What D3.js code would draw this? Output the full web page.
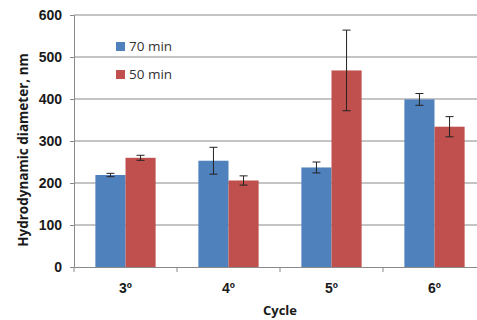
<!DOCTYPE html>
<html>
<head>
<meta charset="utf-8">
<script src="https://cdn.jsdelivr.net/npm/d3@7"></script>
<style>
  body { margin: 0; background: #fff; }
  svg { display: block; font-family: "Open Sans", "DejaVu Sans", sans-serif; }
</style>
</head>
<body>
<div id="plot"></div>
<script>
// chart data
const cycles = ["3º", "4º", "5º", "6º"];
const seriesNames = ["70 min", "50 min"];
const values70 = [219, 253, 237, 399];
const values50 = [260, 206, 468, 334];
const err70 = [4, 32, 13, 14];
const err50 = [6, 11, 96, 24];
const yTicks = [0, 100, 200, 300, 400, 500, 600];
const colors = ["#4f81bd", "#c0504d"];

const width = 477, height = 320;
const margin = { top: 15, right: -9, bottom: 53, left: 74 };

const svg = d3.select("#plot").append("svg")
    .attr("width", width)
    .attr("height", height);

const x = d3.scaleBand()
    .domain(cycles)
    .range([margin.left, width - margin.right])
    .paddingInner(0)
    .paddingOuter(0);

const xInner = d3.scaleBand()
    .domain(seriesNames)
    .range([0, x.bandwidth()])
    .paddingInner(0)
    .paddingOuter(0.71);

const y = d3.scaleLinear()
    .domain([0, 600])
    .range([height - margin.bottom, margin.top]);

// gridlines
svg.append("g")
    .selectAll("line")
    .data(yTicks.slice(1))
    .join("line")
    .attr("x1", margin.left)
    .attr("x2", width)
    .attr("y1", d => y(d))
    .attr("y2", d => y(d))
    .attr("stroke", "#8a8a8a")
    .attr("stroke-width", 1);

// y axis
const yAxis = svg.append("g")
    .attr("transform", `translate(${margin.left},0)`)
    .call(d3.axisLeft(y).tickValues(yTicks).tickSize(4).tickPadding(8));
yAxis.select(".domain").attr("stroke", "#8a8a8a");
yAxis.selectAll(".tick line").attr("stroke", "#8a8a8a");
yAxis.selectAll("text")
    .attr("fill", "#1a1a1a")
    .style("font-size", "14px")
    .style("font-weight", "bold");

// bars
const rows = cycles.map((c, i) => ({
    cycle: c,
    items: [
        { name: seriesNames[0], value: values70[i], err: err70[i], color: colors[0] },
        { name: seriesNames[1], value: values50[i], err: err50[i], color: colors[1] }
    ]
}));

const groups = svg.append("g")
    .selectAll("g")
    .data(rows)
    .join("g")
    .attr("transform", d => `translate(${x(d.cycle)},0)`);

groups.selectAll("rect")
    .data(d => d.items)
    .join("rect")
    .attr("x", d => xInner(d.name))
    .attr("width", xInner.bandwidth())
    .attr("y", d => y(d.value))
    .attr("height", d => y(0) - y(d.value))
    .attr("fill", d => d.color);

// error bars
const eb = groups.selectAll("g.err")
    .data(d => d.items)
    .join("g")
    .attr("class", "err")
    .attr("transform", d => `translate(${xInner(d.name) + xInner.bandwidth() / 2},0)`);

eb.append("line")
    .attr("y1", d => y(d.value + d.err))
    .attr("y2", d => y(d.value - d.err))
    .attr("stroke", "#222")
    .attr("stroke-width", 1);
eb.selectAll("line.cap")
    .data(d => [d.value + d.err, d.value - d.err])
    .join("line")
    .attr("class", "cap")
    .attr("x1", -4).attr("x2", 4)
    .attr("y1", d => y(d)).attr("y2", d => y(d))
    .attr("stroke", "#222")
    .attr("stroke-width", 1);

// x axis
const xAxis = svg.append("g")
    .attr("transform", `translate(0,${y(0)})`)
    .call(d3.axisBottom(x).tickSize(0).tickPadding(16));
xAxis.select(".domain").attr("stroke", "#8a8a8a");
xAxis.selectAll("text")
    .attr("fill", "#1a1a1a")
    .style("font-size", "14px")
    .style("font-weight", "bold");

// category separators
svg.append("g")
    .selectAll("line")
    .data(cycles)
    .join("line")
    .attr("x1", d => x(d)).attr("x2", d => x(d))
    .attr("y1", y(0)).attr("y2", y(0) + 5)
    .attr("stroke", "#8a8a8a");

// axis titles
svg.append("text")
    .attr("x", 280)
    .attr("y", 315)
    .attr("text-anchor", "middle")
    .attr("fill", "#1a1a1a")
    .style("font-size", "13px")
    .style("font-weight", "bold")
    .text("Cycle");

svg.append("text")
    .attr("transform", "translate(28,150) rotate(-90)")
    .attr("text-anchor", "middle")
    .attr("fill", "#1a1a1a")
    .style("font-size", "13.5px")
    .style("font-weight", "bold")
    .text("Hydrodynamic diameter, nm");

// legend
const legend = svg.append("g")
    .selectAll("g")
    .data(seriesNames)
    .join("g")
    .attr("transform", (d, i) => `translate(116,${42 + i * 28})`);

legend.append("rect")
    .attr("width", 9)
    .attr("height", 9)
    .attr("fill", (d, i) => colors[i]);

legend.append("text")
    .attr("x", 13)
    .attr("y", 9)
    .attr("fill", "#333")
    .style("font-size", "13.5px")
    .text(d => d);
</script>
</body>
</html>
